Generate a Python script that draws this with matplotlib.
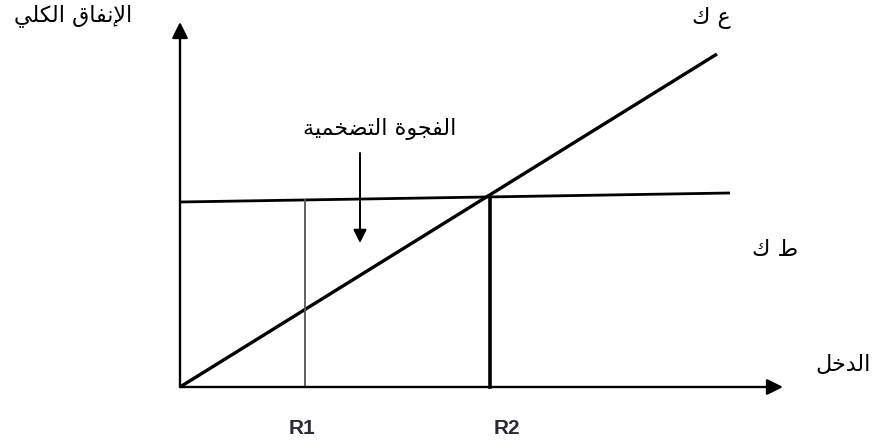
import matplotlib.pyplot as plt
import numpy as np

# diagram coordinates (pixel-like, y grows downward)
origin = (180, 387)
y_axis_top = 22
x_axis_end = 783

# ع ك : 45-degree line
ae_x = [180, 717]
ae_y = [387, 54]
# ط ك : aggregate spending line (almost flat)
ad_x = [180, 730]
ad_y = [202, 193]

# income levels
r_x = [305, 490]
r_labels = ['R1', 'R2']
r_label_x = [302, 507]

# inflationary gap arrow
gap_x = 360
gap_y = [153, 243]


def shape(codes):
    # presentation forms given in logical order -> visual order
    return ''.join(chr(c) if isinstance(c, int) else c for c in codes)[::-1]


# الإنفاق الكلي
lbl_spending = shape([0xFE8D, 0xFEF9, 0xFEE7, 0xFED4, 0xFE8E, 0xFED5, ' ',
                      0xFE8D, 0xFEDF, 0xFEDC, 0xFEE0, 0xFEF2])
# ع ك
lbl_ae = shape([0xFEC9, ' ', 0xFED9])
# ط ك
lbl_ad = shape([0xFEC1, ' ', 0xFED9])
# الدخل
lbl_income = shape([0xFE8D, 0xFEDF, 0xFEAA, 0xFEA7, 0xFEDE])
# الفجوة التضخمية
lbl_gap = shape([0xFE8D, 0xFEDF, 0xFED4, 0xFEA0, 0xFEEE, 0xFE93, ' ',
                 0xFE8D, 0xFEDF, 0xFE98, 0xFEC0, 0xFEA8, 0xFEE4, 0xFEF4, 0xFE94])

fig = plt.figure(figsize=(8.76, 4.46), dpi=100)
ax = fig.add_axes([0, 0, 1, 1])
ax.set_xlim(0, 876)
ax.set_ylim(446, 0)
ax.axis('off')

arrow_kw = dict(arrowstyle='-|>', color='black', lw=1.7, mutation_scale=24,
                shrinkA=0, shrinkB=0)

# axes
ax.annotate('', xy=(origin[0], y_axis_top), xytext=origin, arrowprops=arrow_kw)
ax.annotate('', xy=(x_axis_end, origin[1]), xytext=origin, arrowprops=arrow_kw)

# lines
ax.plot(ae_x, ae_y, color='black', lw=2.4, solid_capstyle='butt')
ax.plot(ad_x, ad_y, color='black', lw=2.0, solid_capstyle='butt')

# verticals at R1, R2
tops = np.interp(r_x, ad_x, ad_y)
ax.plot([r_x[0], r_x[0]], [origin[1], tops[0]], color='#555555', lw=1.3)
ax.plot([r_x[1], r_x[1]], [origin[1], tops[1]], color='black', lw=2.6)

for x, lab in zip(r_label_x, r_labels):
    ax.text(x, 428, lab, ha='center', va='center', fontsize=15,
            fontweight='bold', color='#2a2a3a', family='Liberation Sans')

# gap arrow
ax.annotate('', xy=(gap_x, gap_y[1]), xytext=(gap_x, gap_y[0]),
            arrowprops=dict(arrowstyle='-|>', color='black', lw=1.4,
                            mutation_scale=20, shrinkA=0, shrinkB=0))

arabic_kw = dict(ha='center', va='center', fontsize=16, family='DejaVu Sans',
                 color='black')
ax.text(73, 16, lbl_spending, **arabic_kw)
ax.text(711, 18, lbl_ae, **arabic_kw)
ax.text(775, 250, lbl_ad, **arabic_kw)
ax.text(843, 365, lbl_income, **arabic_kw)
ax.text(380, 129, lbl_gap, **arabic_kw)

fig.savefig('out.png', dpi=100)
